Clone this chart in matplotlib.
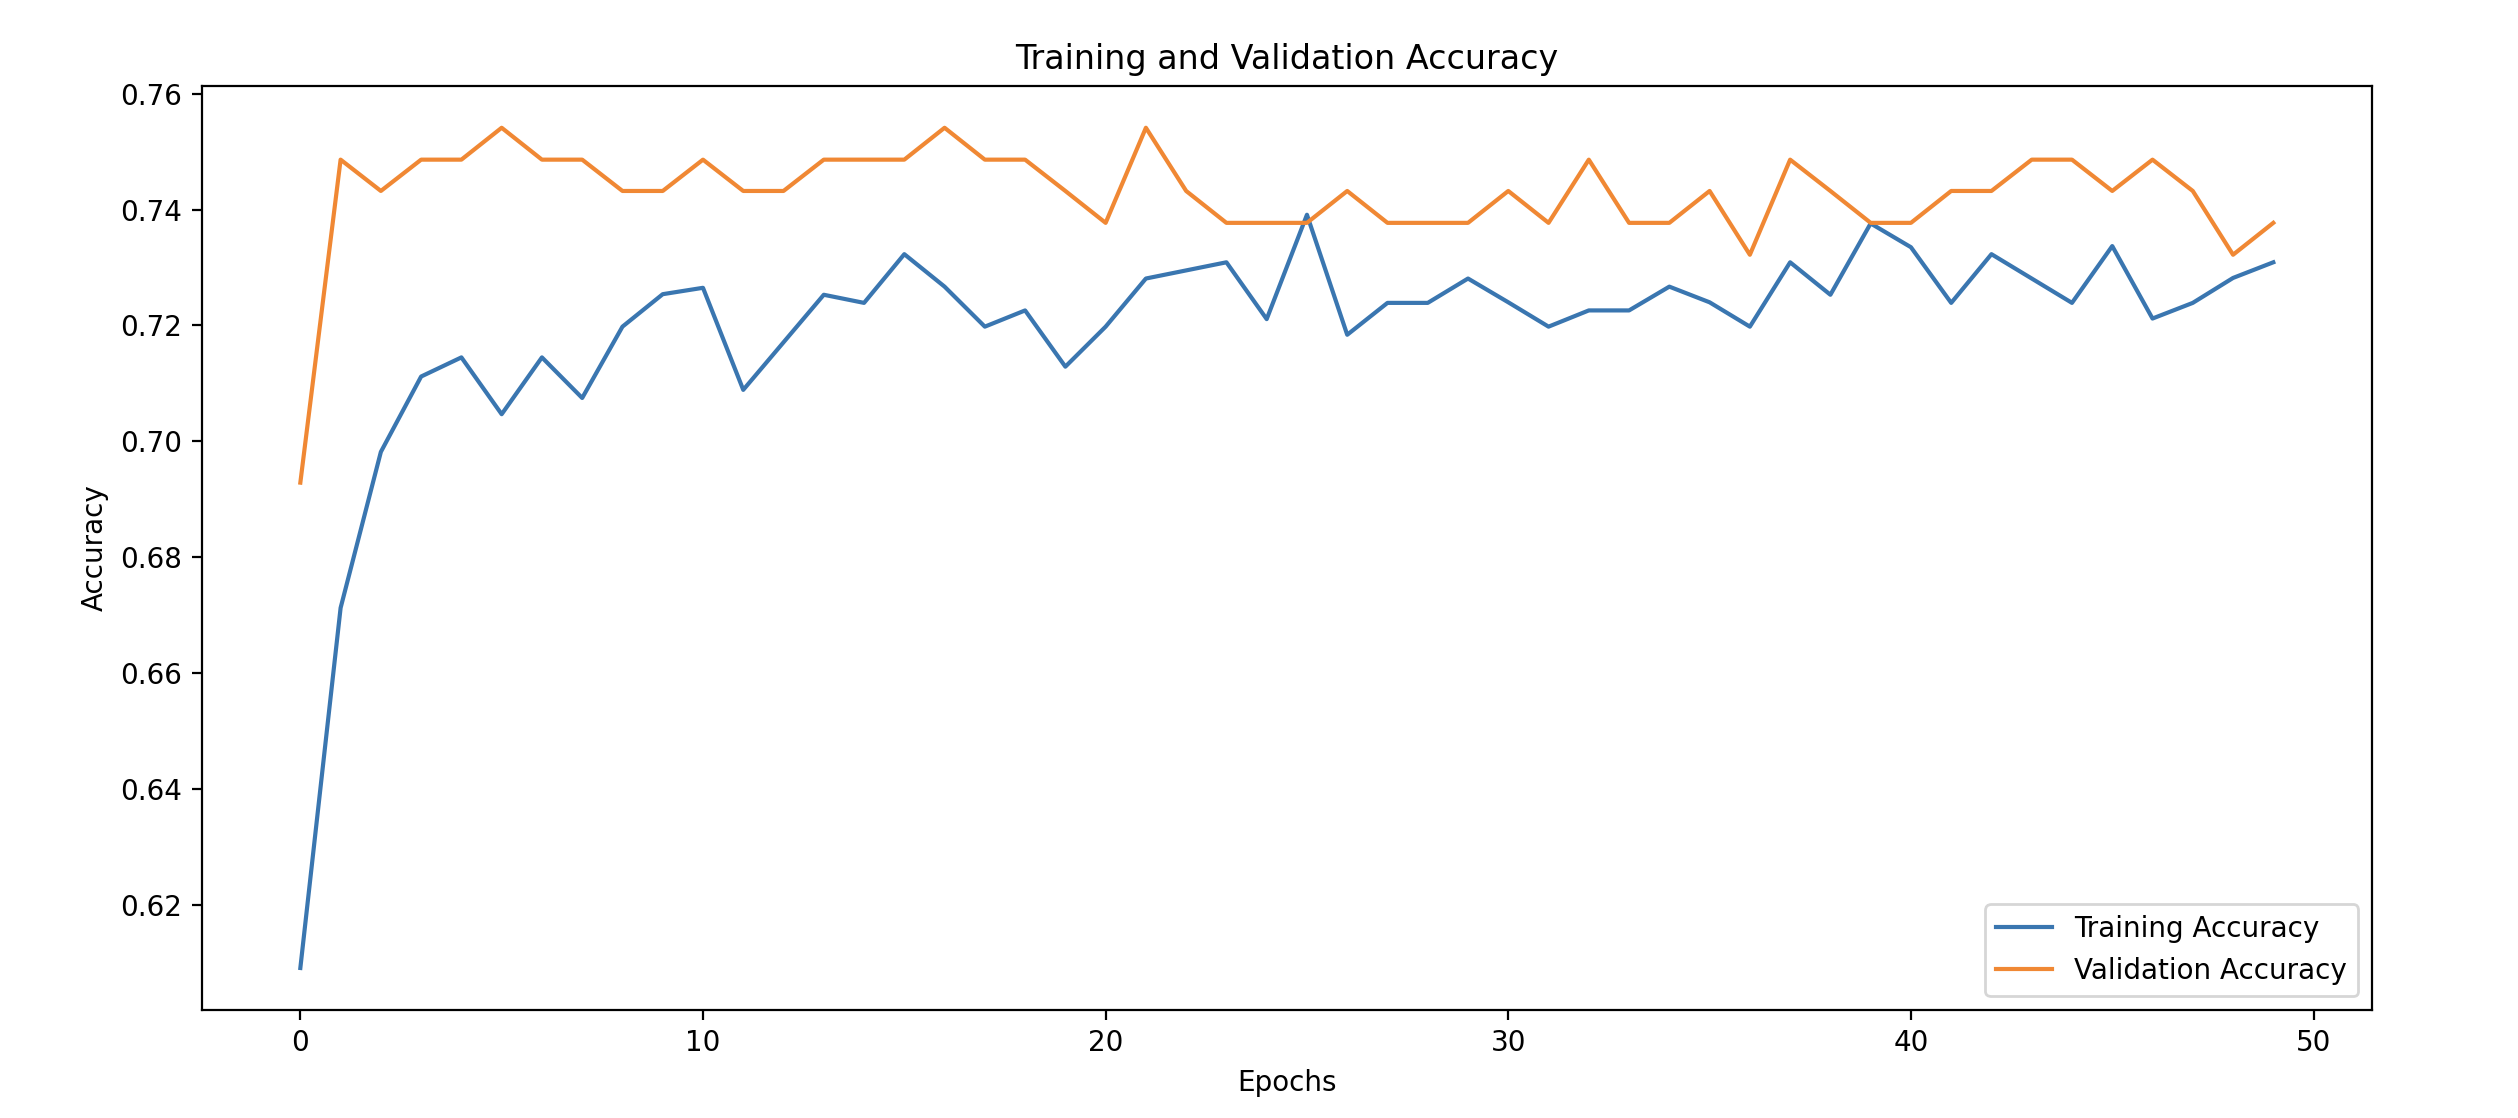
import matplotlib
matplotlib.use("Agg")
import matplotlib.pyplot as plt

epochs = list(range(50))

train_acc = [0.6092, 0.6713, 0.6982, 0.7112, 0.7145, 0.7047, 0.7145, 0.7075, 0.7198, 0.7254,
             0.7265, 0.7089, 0.7171, 0.7253, 0.7239, 0.7323, 0.7267, 0.7198, 0.7226, 0.7129,
             0.7198, 0.7281, 0.7295, 0.7309, 0.7211, 0.7391, 0.7184, 0.7239, 0.7239, 0.7281,
             0.7240, 0.7198, 0.7226, 0.7226, 0.7267, 0.7240, 0.7198, 0.7309, 0.7253, 0.7376,
             0.7335, 0.7239, 0.7323, 0.7281, 0.7239, 0.7337, 0.7212, 0.7239, 0.7282, 0.7309]

val_acc = [0.6929, 0.7486, 0.7432, 0.7486, 0.7486, 0.7541, 0.7486, 0.7486, 0.7432, 0.7432,
           0.7486, 0.7432, 0.7432, 0.7486, 0.7486, 0.7486, 0.7541, 0.7486, 0.7486, 0.7432,
           0.7377, 0.7541, 0.7432, 0.7377, 0.7377, 0.7377, 0.7432, 0.7377, 0.7377, 0.7377,
           0.7432, 0.7377, 0.7486, 0.7377, 0.7377, 0.7432, 0.7322, 0.7486, 0.7432, 0.7377,
           0.7377, 0.7432, 0.7432, 0.7486, 0.7486, 0.7432, 0.7486, 0.7432, 0.7322, 0.7377]

fig = plt.figure(figsize=(12.59, 5.59), dpi=200)
ax = fig.add_axes([0.0801, 0.0966, 0.8619, 0.8267])
ax.plot(epochs, train_acc, color="#3a76b0", linewidth=1.5, label="Training Accuracy")
ax.plot(epochs, val_acc, color="#f08834", linewidth=1.5, label="Validation Accuracy")
ax.set_title("Training and Validation Accuracy")
ax.set_xlabel("Epochs")
ax.set_ylabel("Accuracy")
ax.legend(loc="lower right")
fig.savefig("out.png", dpi=200)
